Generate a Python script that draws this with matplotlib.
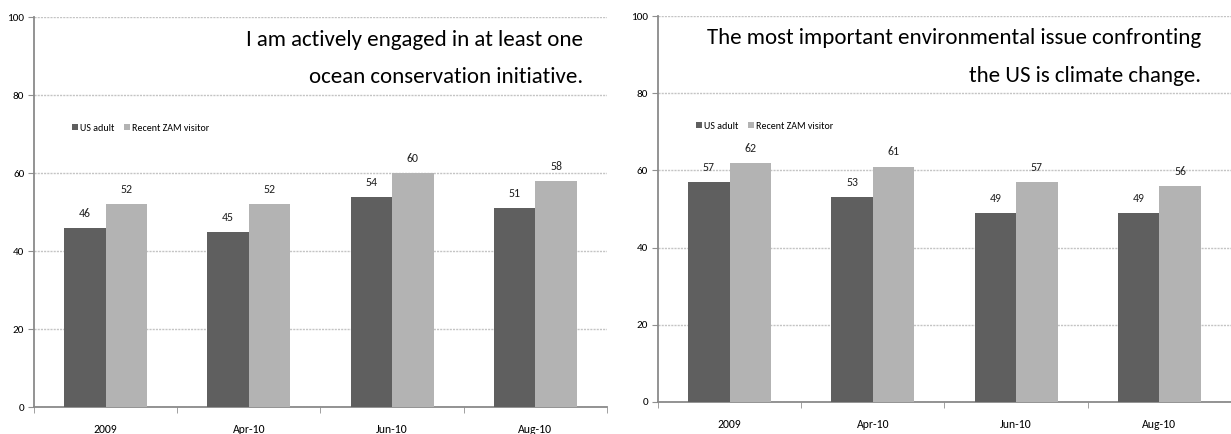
import matplotlib
matplotlib.use("Agg")
import matplotlib.pyplot as plt
import numpy as np

plt.rcParams['font.family'] = ['Carlito', 'DejaVu Sans']

categories = ['2009', 'Apr-10', 'Jun-10', 'Aug-10']
series_names = ['US adult', 'Recent ZAM visitor']

ocean_us = [46, 45, 54, 51]
ocean_zam = [52, 52, 60, 58]

climate_us = [57, 53, 49, 49]
climate_zam = [62, 61, 57, 56]

titles = ['I am actively engaged in at least one\nocean conservation initiative.',
          'The most important environmental issue confronting\nthe US is climate change.']

dark = '#5f5f5f'
light = '#b3b3b3'

fig = plt.figure(figsize=(12.31, 4.34), dpi=100)
ax1 = fig.add_axes([0.0276, 0.062, 0.4655, 0.898])
ax2 = fig.add_axes([0.5345, 0.074, 0.4655, 0.889])

x = np.arange(len(categories))
w = 0.29

for ax, us, zam, title, tx in [(ax1, ocean_us, ocean_zam, titles[0], 0.958),
                               (ax2, climate_us, climate_zam, titles[1], 0.947)]:
    b1 = ax.bar(x - w / 2, us, w, color=dark, label=series_names[0], zorder=3)
    b2 = ax.bar(x + w / 2, zam, w, color=light, label=series_names[1], zorder=3)
    for bars in (b1, b2):
        for r in bars:
            ax.annotate(str(int(r.get_height())),
                        (r.get_x() + r.get_width() / 2, r.get_height()),
                        xytext=(0, 10.5), textcoords='offset points',
                        ha='center', va='center', fontsize=8.5, color='#222222')
    ax.set_xlim(-0.5, len(categories) - 0.5)
    ax.set_ylim(0, 100)
    ax.set_yticks(range(0, 101, 20))
    ax.set_xticks(x)
    ax.set_xticklabels(categories)
    ax.set_xticks(np.arange(-0.5, len(categories)), minor=True)
    ax.tick_params(axis='x', which='major', length=0, pad=12, labelsize=8.5)
    ax.tick_params(axis='x', which='minor', length=4, color='#909090')
    ax.tick_params(axis='y', length=4, color='#909090', labelsize=8, pad=3)
    ax.grid(axis='y', color='#c4c4c4', linestyle=(0, (1.5, 0.8)), linewidth=1.0, zorder=0)
    for s in ['top', 'right']:
        ax.spines[s].set_visible(False)
    for s in ['left', 'bottom']:
        ax.spines[s].set_color('#8a8a8a')
        ax.spines[s].set_linewidth(1.3)
    ax.text(tx, 0.968, title, transform=ax.transAxes, ha='right', va='top',
            fontsize=16.5, linespacing=2.08, color='black')
    ax.legend(loc='upper left', bbox_to_anchor=(0.05, 0.75), ncol=2, frameon=False,
              fontsize=7.2, handlelength=0.6, handleheight=0.6, handletextpad=0.2,
              columnspacing=1.0)

fig.savefig('out.png', dpi=100, facecolor='white')
